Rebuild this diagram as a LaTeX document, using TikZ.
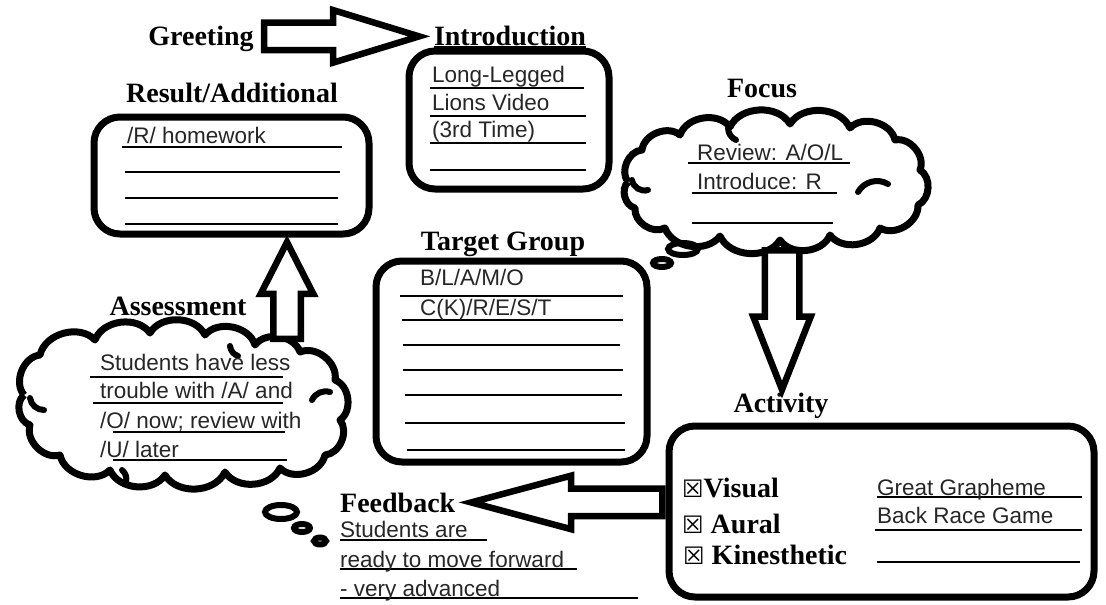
\documentclass[tikz,border=0pt]{standalone}
\usepackage{fontspec}
\setmainfont{Liberation Serif}
\newfontfamily\formfont{Liberation Sans}
\newfontfamily\boxfont{DejaVu Sans}
\usetikzlibrary{shapes.arrows,calc}

\tikzset{
  heading/.style={font=\bfseries\fontsize{28}{32}\selectfont, anchor=base, inner sep=3pt},
  item/.style={font=\bfseries\fontsize{28}{32}\selectfont, anchor=base west, inner sep=0pt},
  entry/.style={font=\formfont\fontsize{22.5}{27}\selectfont, anchor=base west, inner sep=0pt, text=black!85},
  formbox/.style={draw, line width=7pt, rounded corners=26pt},
  cloudline/.style={line width=7pt, line join=round, bend left=62},
  curl/.style={line width=6pt, line cap=round},
  bubble/.style={draw, line width=6pt},
  fatarrow/.style={draw, line width=6.5pt, fill=white, single arrow, single arrow head indent=0pt},
  blank/.style={line width=1.6pt},
}

\newcommand\blockarrow[3][]{%
  \path let \p1=(#2), \p2=(#3), \n1={veclen(\x2-\x1,\y2-\y1)}, \n2={mod(atan2(\y2-\y1,\x2-\x1)+360,360)} in
    node [fatarrow, minimum height=\n1, shape border rotate=\n2, anchor=tail, #1] at (\p1) {};}

\begin{document}
\begin{tikzpicture}[x=1pt, y=-1pt]
  \useasboundingbox (0,0) rectangle (1106,605);

  \node [heading] (greeting) at (201,45) {Greeting};
  \node [heading] (introhead) at (510,45) {Introduction};
  \draw [blank] ([shift={(3pt,-2pt)}]introhead.base west) -- ([shift={(-3pt,-2pt)}]introhead.base east);
  \node [heading] (resulthead) at (232,102) {Result/Additional};
  \node [heading] (focushead) at (762,97) {Focus};
  \node [heading] (targethead) at (503,250) {Target Group};
  \node [heading] (assesshead) at (178,315) {Assessment};
  \node [heading] (acthead) at (781,412) {Activity};
  \node [heading, anchor=base west] (feedhead) at (337,512) {Feedback};

  \node [formbox, minimum width=275pt, minimum height=117pt] (result) at (231.5,175.5) {};
  \node [formbox, minimum width=200pt, minimum height=138pt] (intro) at (509,120) {};
  \node [formbox, minimum width=271pt, minimum height=201pt] (target) at (511.5,361.5) {};
  \node [formbox, minimum width=425pt, minimum height=171pt] (activity) at (881.5,511.5) {};

  % focus cloud
  \draw [cloudline] (628,182) to (642,150) to (680,135) to (730,127) to (790,124) to (850,128)
    to (895,140) to (920,170) to (918,205) to (880,228) to (830,235) to (780,240) to (720,236)
    to (665,228) to (635,208) to (628,182);
  \draw [curl] (632,180) to[bend right=50] (648,190);
  \draw [curl] (858,192) to[bend left=45] (888,184);
  \draw [curl] (728,128) to[bend right=30] (736,140);
  % assessment cloud
  \draw [cloudline] (24,395) to (40,355) to (95,340) to (150,333) to (205,335) to (255,345)
    to (300,352) to (335,380) to (340,420) to (325,455) to (280,468) to (225,472) to (165,475)
    to (110,470) to (60,455) to (30,425) to (24,395);
  \draw [curl] (30,398) to[bend right=40] (44,410);
  \draw [curl] (312,400) to[bend left=40] (330,392);
  \draw [curl] (230,346) to[bend right=30] (238,356);
  \draw [curl] (122,470) to[bend left=30] (126,482);
  \draw [bubble] (683,249) ellipse [x radius=15pt, y radius=6pt];
  \draw [bubble] (662,263) ellipse [x radius=9pt, y radius=4pt];
  \draw [bubble] (281,512) ellipse [x radius=16pt, y radius=7pt];
  \draw [bubble] (302,528) ellipse [x radius=8pt, y radius=4pt];
  \draw [bubble] (320,541) ellipse [x radius=6pt, y radius=3.5pt];

  \coordinate (focusfoot) at (782,247);
  \coordinate (assesstop) at (287,342);
  \blockarrow[inner sep=10.5pt, single arrow head extend=12.5pt, single arrow tip angle=34]{[xshift=4pt,yshift=2pt]greeting.east}{[xshift=-15pt,yshift=2pt]introhead.west}
  \blockarrow[inner sep=14pt, single arrow head extend=11.5pt, single arrow tip angle=43]{focusfoot}{[yshift=3pt]focusfoot |- acthead.north}
  \blockarrow[inner sep=10.5pt, single arrow head extend=12.5pt, single arrow tip angle=54]{assesstop}{[yshift=-8pt]assesstop |- result.south}
  \blockarrow[inner sep=10.5pt, single arrow head extend=13pt, single arrow tip angle=30]{activity.west |- feedhead.east}{[xshift=16pt]feedhead.east}

  \foreach \y/\a/\b in {147/122/342, 172/125/340, 198/125/338, 224/125/338,
      88/430/584, 116/430/586, 143/430/586, 170/430/586,
      163/688/850, 193/692/837, 223/692/833,
      296/400/623, 320/402/623, 345/403/620, 370/403/623, 395/405/622, 423/405/625, 450/407/625,
      377/90/283, 403/93/283, 432/113/285, 460/113/287,
      497/877/1082, 530/875/1082, 562/877/1080,
      540/340/487, 569/340/577, 598/340/638}
    \draw [blank] (\a,\y) -- (\b,\y);

  \node [entry] (homework) at (127,143) {/R/ homework};
  \node [entry] (video1) at (432,82) {Long-Legged};
  \node [entry] (video2) at (432,110) {Lions Video};
  \node [entry] (video3) at (432,137) {(3rd Time)};
  \node [entry] (review) at (697,160) {Review: A/O/L};
  \node [entry] (introduce) at (697,189) {Introduce: R};
  \node [entry] (group1) at (420,285) {B/L/A/M/O};
  \node [entry] (group2) at (420,315) {C(K)/R/E/S/T};
  \node [entry] (note1) at (100,370) {Students have less};
  \node [entry] (note2) at (100,398) {trouble with /A/ and};
  \node [entry] (note3) at (100,428) {/O/ now; review with};
  \node [entry] (note4) at (100,457) {/U/ later};
  \node [entry] (game1) at (877,495) {Great Grapheme};
  \node [entry] (game2) at (877,523) {Back Race Game};
  \node [entry] (feed1) at (340,537) {Students are};
  \node [entry] (feed2) at (340,567) {ready to move forward};
  \node [entry] (feed3) at (340,596) {- very advanced};

  \node [item] (visual) at (682,497) {{\boxfont\fontsize{24}{28}\selectfont ☒}Visual};
  \node [item] (aural) at (682,533) {{\boxfont\fontsize{24}{28}\selectfont ☒} Aural};
  \node [item] (kinesthetic) at (683,564) {{\boxfont\fontsize{24}{28}\selectfont ☒} Kinesthetic};
\end{tikzpicture}
\end{document}
